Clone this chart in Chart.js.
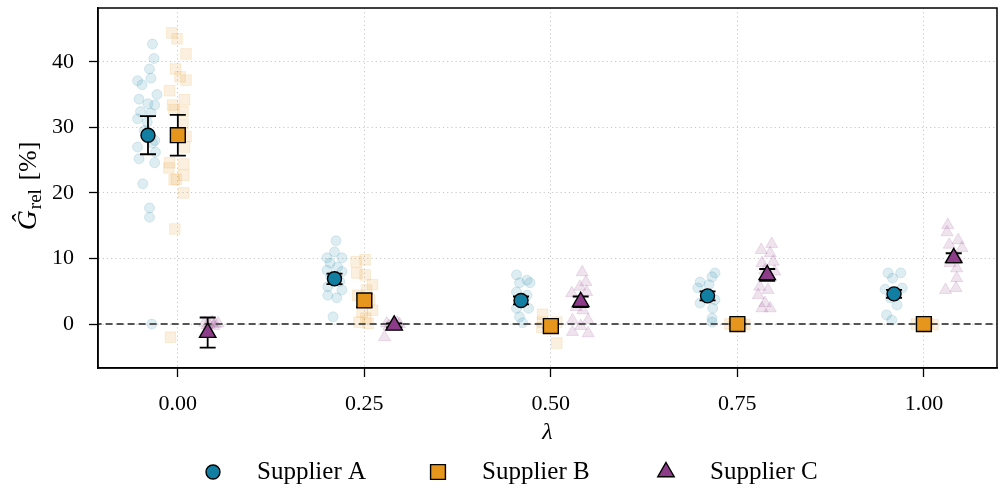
<!DOCTYPE html>
<html>
<head>
<meta charset="utf-8">
<script src="https://cdn.jsdelivr.net/npm/chart.js@4"></script>
<style>
  html, body { margin: 0; padding: 0; background: #fff; }
  #wrap { width: 998px; height: 491px; }
</style>
</head>
<body>
<div id="wrap"><canvas id="gapChart" width="998" height="491"></canvas></div>
<script>
// lambda values and the per-supplier horizontal offset
const lambdas = [0, 0.25, 0.5, 0.75, 1.0];
const supplierNames = ["Supplier A", "Supplier B", "Supplier C"];
const offsets = [-0.04, 0, 0.04];

// means and error half-widths
const meansA = [28.8, 6.9, 3.6, 4.3, 4.6];
const errA = [2.9, 0.8, 0.6, 0.7, 0.6];
const meansB = [28.8, 3.6, -0.3, 0.0, 0.0];
const errB = [3.1, 1.0, 0.3, 0.1, 0.1];
const meansC = [-1.3, -0.2, 3.4, 7.5, 10.1];
const errC = [2.3, 0.3, 0.8, 0.9, 0.7];

// individual runs, [jittered lambda, value]
const runsA = [
  [-0.034, 42.7], [-0.032, 40.5], [-0.038, 38.9], [-0.054, 37.1], [-0.048, 36.5], [-0.036, 37.5],
  [-0.028, 35.0], [-0.052, 34.3], [-0.040, 33.6], [-0.031, 33.4], [-0.050, 32.4], [-0.036, 32.2],
  [-0.054, 31.3], [-0.041, 30.8], [-0.045, 29.5], [-0.034, 27.6], [-0.054, 27.0], [-0.031, 28.0],
  [-0.030, 26.2], [-0.052, 25.2], [-0.031, 24.6], [-0.047, 21.4], [-0.038, 17.7], [-0.038, 16.3],
  [-0.035, 0.0],
  [0.212, 12.7], [0.210, 11.0], [0.200, 10.1], [0.220, 10.1], [0.204, 9.3], [0.214, 8.7],
  [0.200, 8.2], [0.220, 8.0], [0.205, 7.2], [0.217, 6.5], [0.201, 5.7], [0.220, 5.2],
  [0.201, 4.4], [0.213, 4.0], [0.208, 1.1],
  [0.454, 7.5], [0.468, 6.7], [0.458, 6.3], [0.472, 6.3], [0.454, 4.9], [0.468, 4.4],
  [0.463, 3.6], [0.454, 2.4], [0.470, 2.4], [0.458, 1.1], [0.462, 0.2],
  [0.720, 7.8], [0.716, 7.2], [0.700, 6.4], [0.712, 6.0], [0.697, 5.5], [0.720, 3.7],
  [0.700, 3.2], [0.717, 2.4], [0.716, 0.9], [0.716, 0.3],
  [0.952, 7.8], [0.969, 7.8], [0.958, 7.0], [0.948, 5.3], [0.971, 5.5], [0.955, 4.0],
  [0.964, 2.9], [0.950, 1.4], [0.957, 0.6]
];
const runsB = [
  [-0.008, 44.4], [-0.001, 43.5], [0.011, 41.2], [-0.003, 38.9], [0.003, 37.7], [0.011, 37.2],
  [-0.011, 35.6], [-0.007, 33.4], [0.009, 34.2], [-0.005, 32.7], [0.007, 32.4], [0.007, 30.5],
  [0.011, 28.6], [0.009, 27.0], [-0.011, 24.6], [-0.012, 23.8], [0.008, 24.4], [0.008, 22.7],
  [-0.005, 22.0], [-0.002, 22.1], [0.008, 20.0], [-0.004, 14.5], [-0.010, -2.0],
  [0.239, 9.5], [0.251, 9.8], [0.240, 7.8], [0.251, 7.5], [0.261, 6.0], [0.253, 5.2],
  [0.241, 4.4], [0.257, 3.7], [0.261, 2.1], [0.247, 1.8], [0.252, 0.9], [0.243, 0.3], [0.255, 0.1],
  [0.489, 1.5], [0.489, 0.3], [0.508, 0.3], [0.508, -2.9], [0.488, -0.5], [0.500, -0.3],
  [0.740, 0.0], [0.755, 0.1], [0.760, -0.1], [0.745, 0.05],
  [0.990, 0.0], [1.005, 0.1], [1.012, -0.1]
];
const runsC = [
  [0.036, 0.2], [0.042, -0.1], [0.046, 0.3], [0.050, 0.0], [0.054, 0.1], [0.039, -0.2], [0.048, -0.3],
  [0.280, 0.1], [0.288, -0.2], [0.294, 0.2], [0.297, 0.0], [0.283, -0.3], [0.277, -2.0], [0.290, 0.3],
  [0.542, 7.9], [0.547, 6.4], [0.539, 5.7], [0.528, 4.7], [0.548, 4.9], [0.534, 2.6],
  [0.543, 2.1], [0.529, 0.6], [0.550, 0.6], [0.529, -1.2], [0.550, -1.4], [0.540, -0.3],
  [0.796, 12.2], [0.782, 11.3], [0.794, 10.8], [0.783, 9.3], [0.798, 9.5], [0.787, 8.2],
  [0.800, 8.0], [0.780, 5.7], [0.791, 5.2], [0.778, 4.4], [0.787, 3.2], [0.794, 2.4], [0.783, 2.4],
  [1.032, 15.1], [1.031, 14.0], [1.046, 12.8], [1.034, 12.1], [1.051, 11.6], [1.044, 10.1],
  [1.035, 9.3], [1.044, 8.5], [1.044, 7.0], [1.029, 5.2], [1.043, 5.5]
];

const xTicks = [0, 0.25, 0.5, 0.75, 1.0];
const yTicks = [0, 10, 20, 30, 40];

const colors = ["#127ea1", "#e6961c", "#8c3c88"];
const shapes = ["circle", "rect", "triangle"];
const meanRadius = [7, 10.5, 9.5];
const runRadius = [5, 7.5, 7];
const FONT = "'Liberation Serif', 'Times New Roman', serif";

function rgba(hex, a) {
    const n = parseInt(hex.slice(1), 16);
    return "rgba(" + (n >> 16) + "," + ((n >> 8) & 255) + "," + (n & 255) + "," + a + ")";
}

const allMeans = [meansA, meansB, meansC];
const allErr = [errA, errB, errC];
const allRuns = [runsA, runsB, runsC];

const datasets = [];
for (let s = 0; s < 3; s++) {
    datasets.push({
        type: "scatter",
        label: supplierNames[s] + " runs",
        data: allRuns[s].map(p => ({x: p[0], y: p[1]})),
        pointStyle: shapes[s],
        pointRadius: runRadius[s],
        backgroundColor: rgba(colors[s], 0.14),
        borderColor: rgba(colors[s], 0.14),
        borderWidth: 1,
        order: 3
    });
}
datasets.push({
    type: "line",
    label: "zero",
    data: [{x: -0.2, y: 0}, {x: 1.2, y: 0}],
    borderColor: "#555555",
    borderWidth: 2,
    borderDash: [7, 4],
    pointRadius: 0,
    order: 2
});
for (let s = 0; s < 3; s++) {
    datasets.push({
        type: "scatter",
        label: supplierNames[s],
        data: lambdas.map((l, i) => ({x: l + offsets[s], y: allMeans[s][i]})),
        errors: allErr[s],
        pointStyle: shapes[s],
        pointRadius: meanRadius[s],
        backgroundColor: colors[s],
        borderColor: "#000000",
        borderWidth: 1.4,
        order: 1
    });
}

// error bars drawn just before each mean dataset
const errorBars = {
    id: "errorBars",
    beforeDatasetDraw(chart, args) {
        const ds = chart.data.datasets[args.index];
        if (!ds.errors) return;
        const ctx = chart.ctx, xs = chart.scales.x, ys = chart.scales.y;
        ctx.save();
        ctx.strokeStyle = "#000";
        ctx.lineWidth = 1.8;
        ds.data.forEach((p, i) => {
            const px = xs.getPixelForValue(p.x);
            const top = ys.getPixelForValue(p.y + ds.errors[i]);
            const bot = ys.getPixelForValue(p.y - ds.errors[i]);
            ctx.beginPath();
            ctx.moveTo(px, top); ctx.lineTo(px, bot);
            ctx.moveTo(px - 8, top); ctx.lineTo(px + 8, top);
            ctx.moveTo(px - 8, bot); ctx.lineTo(px + 8, bot);
            ctx.stroke();
        });
        ctx.restore();
    }
};

// frame, y title and legend
const decorations = {
    id: "decorations",
    afterDraw(chart) {
        const ctx = chart.ctx, a = chart.chartArea;
        ctx.save();
        ctx.strokeStyle = "#000";
        ctx.lineWidth = 1.5;
        ctx.strokeRect(a.left, a.top, a.right - a.left, a.bottom - a.top);

        // y title: G hat with subscript rel
        ctx.translate(29, 186);
        ctx.rotate(-Math.PI / 2);
        ctx.fillStyle = "#000";
        ctx.textBaseline = "middle";
        const big = "italic 28px " + FONT, small = "19px " + FONT, plain = "26px " + FONT;
        ctx.font = big; const w1 = ctx.measureText("Ĝ").width;
        ctx.font = small; const w2 = ctx.measureText("rel").width;
        ctx.font = plain; const w3 = ctx.measureText(" [%]").width;
        let x0 = -(w1 + w2 + w3 + 3) / 2;
        ctx.font = big; ctx.fillText("Ĝ", x0, 0); x0 += w1 + 1;
        ctx.font = small; ctx.fillText("rel", x0, 7); x0 += w2 + 2;
        ctx.font = plain; ctx.fillText(" [%]", x0, 0);
        ctx.restore();

        // legend
        const markX = [213, 438, 666];
        const legY = 472;
        ctx.save();
        ctx.font = "25px " + FONT;
        ctx.textBaseline = "middle";
        for (let s = 0; s < 3; s++) {
            ctx.fillStyle = colors[s];
            ctx.strokeStyle = "#000";
            ctx.lineWidth = 1.4;
            Chart.helpers.drawPoint(ctx, {pointStyle: shapes[s], radius: meanRadius[s], rotation: 0}, markX[s], legY);
            ctx.fill();
            ctx.stroke();
            ctx.fillStyle = "#000";
            ctx.fillText(supplierNames[s], markX[s] + 44, legY);
        }
        ctx.restore();
    }
};

const gridOpts = {
    color: "#c8c8c8",
    lineWidth: 1,
    tickColor: "#000",
    tickLength: 9,
    tickWidth: 1.3
};

new Chart(document.getElementById("gapChart"), {
    type: "scatter",
    data: {datasets: datasets},
    plugins: [errorBars, decorations],
    options: {
        responsive: false,
        animation: false,
        layout: {autoPadding: false, padding: {top: 8, right: 1, bottom: 43, left: 0}},
        plugins: {legend: {display: false}, tooltip: {enabled: false}},
        scales: {
            x: {
                type: "linear",
                min: -0.107,
                max: 1.098,
                afterBuildTicks: scale => { scale.ticks = xTicks.map(v => ({value: v})); },
                afterFit: scale => { scale.height = 80; scale.paddingLeft = 0; scale.paddingRight = 0; },
                ticks: {
                    callback: v => v.toFixed(2),
                    font: {family: FONT, size: 22},
                    color: "#000",
                    padding: 14,
                    maxRotation: 0
                },
                grid: gridOpts,
                border: {display: true, color: "#000", width: 1.5, dash: [1.2, 3]},
                title: {
                    display: true,
                    text: "λ",
                    font: {family: FONT, size: 24, style: "italic"},
                    color: "#000",
                    padding: {top: 0, bottom: 1}
                }
            },
            y: {
                type: "linear",
                min: -6.7,
                max: 48.2,
                afterBuildTicks: scale => { scale.ticks = yTicks.map(v => ({value: v})); },
                afterFit: scale => { scale.width = 98; scale.paddingTop = 0; scale.paddingBottom = 0; },
                ticks: {
                    font: {family: FONT, size: 22},
                    color: "#000",
                    padding: 15
                },
                grid: gridOpts,
                border: {display: true, color: "#000", width: 1.5, dash: [1.2, 3]}
            }
        }
    }
});
</script>
</body>
</html>
